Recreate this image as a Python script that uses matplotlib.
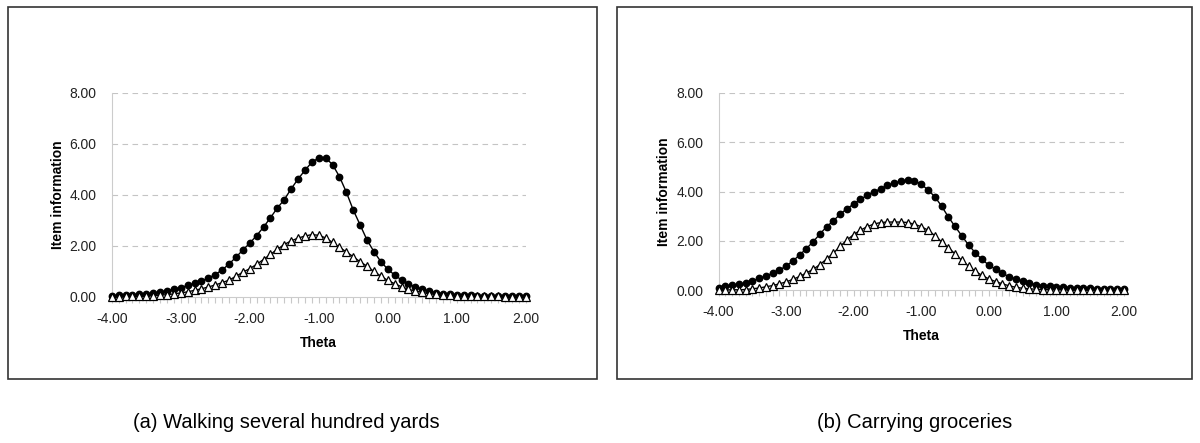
import numpy as np
import matplotlib
matplotlib.use("Agg")
import matplotlib.pyplot as plt
from matplotlib.patches import Rectangle

plt.rcParams['font.family'] = ['Liberation Sans', 'DejaVu Sans']

# theta grid, -4.00 .. 2.00 in steps of 0.1
theta = np.round(np.arange(-40, 21) / 10.0, 1)

# (a) Walking several hundred yards
walk_filled = [0.04, 0.05, 0.06, 0.08, 0.09, 0.11, 0.14, 0.18, 0.23, 0.29,
               0.36, 0.44, 0.53, 0.62, 0.73, 0.87, 1.05, 1.28, 1.55, 1.83,
               2.10, 2.40, 2.73, 3.10, 3.48, 3.81, 4.23, 4.62, 4.96, 5.28,
               5.45, 5.45, 5.19, 4.72, 4.11, 3.41, 2.82, 2.23, 1.77, 1.38,
               1.08, 0.85, 0.66, 0.50, 0.39, 0.29, 0.22, 0.16, 0.12, 0.09,
               0.08, 0.06, 0.05, 0.04, 0.03, 0.03, 0.02, 0.02, 0.02, 0.01,
               0.01]
walk_open = [0.00, 0.00, 0.01, 0.01, 0.01, 0.02, 0.04, 0.06, 0.08, 0.11,
             0.15, 0.19, 0.25, 0.31, 0.38, 0.46, 0.55, 0.65, 0.80, 0.96,
             1.10, 1.27, 1.46, 1.66, 1.86, 2.05, 2.19, 2.30, 2.38, 2.44,
             2.41, 2.31, 2.13, 1.94, 1.76, 1.57, 1.37, 1.20, 0.99, 0.81,
             0.64, 0.51, 0.39, 0.29, 0.22, 0.17, 0.12, 0.09, 0.07, 0.05,
             0.04, 0.03, 0.02, 0.02, 0.01, 0.01, 0.01, 0.00, 0.00, 0.00,
             0.00]

# (b) Carrying groceries
carry_filled = [0.10, 0.15, 0.19, 0.23, 0.28, 0.37, 0.47, 0.57, 0.68, 0.81,
                0.97, 1.18, 1.42, 1.68, 1.96, 2.27, 2.57, 2.81, 3.08, 3.30,
                3.49, 3.68, 3.85, 3.99, 4.11, 4.25, 4.35, 4.41, 4.46, 4.43,
                4.30, 4.06, 3.79, 3.41, 2.97, 2.58, 2.20, 1.83, 1.51, 1.24,
                1.01, 0.84, 0.68, 0.54, 0.45, 0.35, 0.27, 0.22, 0.18, 0.15,
                0.12, 0.11, 0.10, 0.09, 0.08, 0.07, 0.06, 0.05, 0.05, 0.04,
                0.04]
carry_open = [0.00, 0.00, 0.01, 0.01, 0.02, 0.05, 0.08, 0.13, 0.18, 0.25,
              0.33, 0.43, 0.55, 0.69, 0.84, 1.03, 1.26, 1.50, 1.77, 2.03,
              2.25, 2.43, 2.57, 2.68, 2.74, 2.76, 2.76, 2.76, 2.74, 2.67,
              2.57, 2.43, 2.21, 1.96, 1.72, 1.47, 1.20, 0.97, 0.76, 0.59,
              0.45, 0.34, 0.25, 0.17, 0.11, 0.07, 0.05, 0.03, 0.02, 0.01,
              0.01, 0.01, 0.00, 0.00, 0.00, 0.00, 0.00, 0.00, 0.00, 0.00,
              0.00]

for s in (walk_filled, walk_open, carry_filled, carry_open):
    assert len(s) == len(theta), len(s)

captions = ['(a) Walking several hundred yards', '(b) Carrying groceries']

W, H = 1200, 443
fig = plt.figure(figsize=(W / 100, H / 100), dpi=100)

# panel frames (pixels: left, top, right, bottom)
frames = [(8, 7, 597, 379), (617, 7, 1192, 379)]
for l, t, r, b in frames:
    fig.patches.append(Rectangle((l / W, 1 - b / H), (r - l) / W, (b - t) / H,
                                 transform=fig.transFigure, fill=False,
                                 edgecolor='#333333', linewidth=1.2))

# plot areas (pixels: x of -4, x of 2, y of 0, y of 8)
areas = [(111.7, 525.7, 296.7, 93), (718.5, 1124, 290, 93)]
series = [(walk_filled, walk_open), (carry_filled, carry_open)]
ylab_x = [58, 664]
theta_y = [343, 336]
cap_x = [286, 915]

for (x0, x1, y0, y1), (filled, opened), cap, yx, ty, cx in zip(
        areas, series, captions, ylab_x, theta_y, cap_x):
    ax = fig.add_axes([x0 / W, 1 - y0 / H, (x1 - x0) / W, (y0 - y1) / H])
    ax.plot(theta, filled, color='black', lw=1.0, marker='o', ms=4.6,
            mfc='black', mec='black', clip_on=False, zorder=3)
    ax.plot(theta, opened, color='black', lw=1.0, marker='^', ms=5.2,
            mfc='white', mec='black', mew=0.9, clip_on=False, zorder=4)

    ax.set_xlim(-4, 2)
    ax.set_ylim(0, 8)
    ax.set_xticks(np.arange(-4, 3, 1))
    ax.set_xticks(theta, minor=True)
    ax.set_xticklabels(['%.2f' % v for v in np.arange(-4, 3, 1)])
    ax.set_yticks([0, 2, 4, 6, 8])
    ax.set_yticklabels(['%.2f' % v for v in [0, 2, 4, 6, 8]])
    ax.tick_params(axis='x', which='both', direction='out', length=4,
                   color='#c8c8c8', width=0.8, labelsize=10, pad=7,
                   labelcolor='#222222')
    ax.tick_params(axis='y', length=0, labelsize=10, pad=11,
                   labelcolor='#222222')
    for g in [2, 4, 6, 8]:
        ax.axhline(g, color='#c4c4c4', lw=0.8, ls=(0, (5, 4)), zorder=1)
    for side in ['top', 'right']:
        ax.spines[side].set_visible(False)
    for side in ['left', 'bottom']:
        ax.spines[side].set_color('#cccccc')
        ax.spines[side].set_linewidth(0.8)
    ax.patch.set_alpha(0)

    fig.text((x0 + x1) / 2 / W, 1 - ty / H, 'Theta',
             ha='center', va='center', fontsize=10, fontweight='bold')
    fig.text(yx / W, 1 - (y0 + y1) / 2 / H, 'Item information',
             rotation=90, ha='center', va='center', fontsize=10,
             fontweight='bold')
    fig.text(cx / W, 1 - 422 / H, cap, ha='center', va='center',
             fontsize=14.5)

fig.savefig('out.png', dpi=100)
